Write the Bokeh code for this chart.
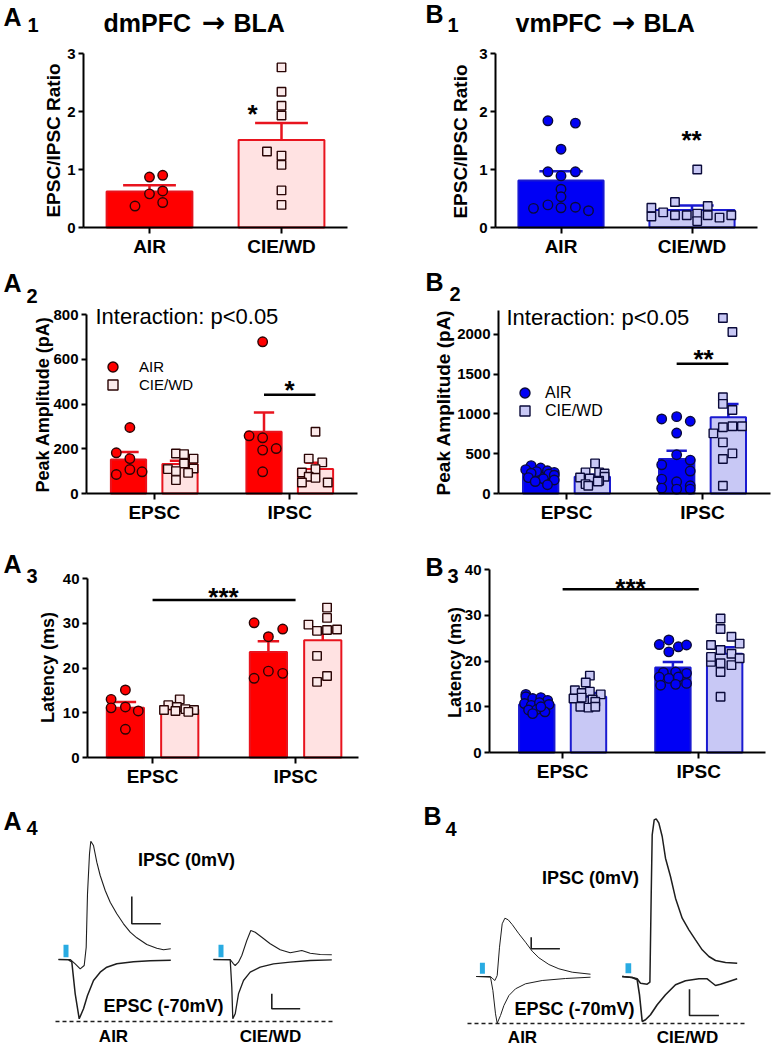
import math
from bokeh.plotting import figure
from bokeh.models import Range1d, FixedTicker, Label, Legend, LegendItem
from bokeh.core.properties import value
from bokeh.layouts import column, row
from bokeh.embed import file_html
from bokeh.resources import INLINE

FONT = "Liberation Sans"
ARROW_FONT = "DejaVu Sans"
RED, RED_EDGE, PINK = "#ff0000", "#e8141e", "#ffe2e2"
BLUE, BLUE_EDGE, LAV = "#0000f5", "#1a1ad0", "#c8c8f5"
A_PT_EDGE, B_PT_EDGE = "#2a0505", "#0a0a3a"
STIM = "#29abe2"

# ---------------- data ----------------
RATIO_GROUPS = ["AIR", "CIE/WD"]
CURRENT_GROUPS = ["EPSC", "IPSC"]

# A1 dmPFC -> BLA EPSC/IPSC ratio
A1_MEAN = [0.62, 1.51]
A1_SEM = [0.11, 0.29]
A1_AIR = [0.87, 0.90, 0.58, 0.63, 0.37, 0.43]
A1_AIR_JIT = [0.0, 0.10, 0.0, 0.10, -0.11, 0.10]
A1_CIE = [2.76, 2.34, 2.10, 1.93, 1.31, 1.24, 1.08, 0.64, 0.39]
A1_CIE_JIT = [0, 0, 0, 0, -0.11, 0, 0, 0, 0]

# B1 vmPFC -> BLA EPSC/IPSC ratio
B1_MEAN = [0.81, 0.30]
B1_SEM = [0.16, 0.08]
B1_AIR = [1.84, 1.80, 1.35, 0.96, 0.96, 0.89, 0.66, 0.53, 0.33, 0.39, 0.34, 0.35, 0.29]
B1_AIR_JIT = [-0.10, 0.11, 0, -0.10, 0.11, 0, 0, 0, -0.21, -0.10, 0, 0.11, 0.21]
B1_CIE = [1.00, 0.44, 0.34, 0.37, 0.26, 0.19, 0.21, 0.21, 0.24, 0.11, 0.21, 0.17, 0.21]
B1_CIE_JIT = [0.04, -0.13, -0.31, 0.12, -0.22, -0.31, -0.13, -0.04, 0.04, 0.04, 0.12, 0.21, 0.30]

# A2 peak amplitude (pA)  [EPSC, IPSC]
A2_MEAN_AIR = [152, 276]
A2_SEM_AIR = [34, 86]
A2_MEAN_CIE = [132, 109]
A2_SEM_CIE = [14, 28]
A2_EPSC_AIR = [295, 182, 156, 107, 97, 85]
A2_EPSC_AIR_JIT = [0.01, -0.09, 0.01, 0.01, 0.10, -0.09]
A2_EPSC_CIE = [179, 176, 156, 134, 112, 109, 100, 92, 60]
A2_EPSC_CIE_JIT = [-0.03, 0.03, 0.10, 0.03, 0.10, -0.09, -0.03, 0.06, -0.03]
A2_IPSC_AIR = [678, 258, 249, 201, 194, 97]
A2_IPSC_AIR_JIT = [-0.01, -0.11, -0.01, 0.09, -0.01, -0.01]
A2_IPSC_CIE = [276, 156, 139, 109, 94, 75, 70, 49, 49]
A2_IPSC_CIE_JIT = [0, -0.05, 0.05, 0, -0.10, -0.05, 0, -0.10, 0.09]
A2_SIG = 441

# B2 peak amplitude (pA)
B2_MEAN_AIR = [250, 433]
B2_SEM_AIR = [20, 105]
B2_MEAN_CIE = [210, 958]
B2_SEM_CIE = [25, 168]
B2_EPSC_AIR = [350, 320, 300, 285, 275, 265, 255, 245, 230, 200, 185, 170, 150, 110]
B2_EPSC_AIR_JIT = [-0.07, 0.0, -0.11, 0.05, -0.03, 0.10, -0.07, 0.06, 0.10, -0.09, 0.02, 0.10, -0.04, 0.05]
B2_EPSC_CIE = [378, 265, 265, 252, 210, 202, 189, 160, 151, 118, 97]
B2_EPSC_CIE_JIT = [0.02, -0.05, 0.05, 0.09, 0.09, -0.09, -0.02, 0.05, 0.04, -0.05, -0.03]
B2_IPSC_AIR = [966, 937, 908, 760, 487, 420, 361, 282, 181, 147, 97, 67, 55, 55]
B2_IPSC_AIR_JIT = [0, -0.11, 0.10, 0, 0, 0.10, -0.11, 0.10, -0.11, 0, 0.10, -0.11, 0, 0.10]
B2_IPSC_CIE = [2206, 2029, 1210, 1126, 1050, 845, 845, 832, 756, 643, 504, 433, 97]
B2_IPSC_CIE_JIT = [-0.04, 0.03, -0.04, -0.04, 0.03, 0.10, 0.03, -0.04, -0.11, -0.04, 0.03, -0.04, -0.04]
B2_SIG = 1630

# A3 latency (ms)
A3_MEAN_AIR = [11.1, 23.6]
A3_SEM_AIR = [1.3, 2.4]
A3_MEAN_CIE = [10.7, 26.2]
A3_SEM_CIE = [0.6, 1.9]
A3_EPSC_AIR = [15.1, 13.0, 11.1, 11.3, 10.4, 6.3]
A3_EPSC_AIR_JIT = [0, -0.10, -0.10, 0, 0.09, 0]
A3_EPSC_CIE = [13.0, 11.7, 11.3, 10.8, 10.6, 10.6, 10.4, 10.2]
A3_EPSC_CIE_JIT = [0, -0.08, -0.02, 0.04, -0.11, 0.10, -0.03, 0.06]
A3_IPSC_AIR = [30.1, 28.7, 27.0, 19.3, 18.8, 17.7]
A3_IPSC_AIR_JIT = [-0.10, 0.10, 0, 0, 0.10, -0.10]
A3_IPSC_CIE = [33.5, 31.2, 29.7, 28.6, 28.3, 28.5, 22.7, 18.2, 16.9]
A3_IPSC_CIE_JIT = [0.03, 0.03, -0.10, 0.10, -0.04, 0.03, -0.04, 0.03, -0.04]
A3_SIG = 35.2

# B3 latency (ms)
B3_MEAN_AIR = [10.5, 18.6]
B3_SEM_AIR = [0.6, 1.2]
B3_MEAN_CIE = [12.2, 21.6]
B3_SEM_CIE = [0.8, 1.4]
B3_EPSC_AIR = [12.7, 12.2, 11.8, 12.0, 11.4, 10.7, 10.3, 10.9, 10.5, 9.3, 9.4, 8.9, 8.5, 10.0]
B3_EPSC_AIR_JIT = [-0.08, -0.08, -0.03, 0.03, 0.08, -0.09, -0.04, 0.02, 0.09, -0.06, 0.0, 0.06, -0.03, 0.03]
B3_EPSC_CIE = [16.8, 15.3, 13.6, 13.0, 13.3, 12.7, 11.8, 12.0, 11.6, 11.1, 10.0, 9.8, 10.0]
B3_EPSC_CIE_JIT = [0.01, -0.02, -0.10, -0.05, 0.01, 0.09, -0.11, -0.05, 0.03, 0.05, -0.06, 0.0, 0.05]
B3_IPSC_AIR = [24.6, 23.6, 23.1, 23.5, 22.0, 17.5, 17.6, 17.3, 16.5, 16.2, 16.5, 15.1, 14.7, 14.9]
B3_IPSC_AIR_JIT = [-0.03, -0.10, 0.04, 0.10, -0.03, -0.07, 0.02, 0.10, -0.10, -0.03, 0.04, 0.10, -0.09, 0.02]
B3_IPSC_CIE = [29.3, 27.0, 25.3, 23.8, 23.5, 22.4, 21.6, 19.8, 19.5, 19.1, 20.6, 17.6, 12.2, 20.9]
B3_IPSC_CIE_JIT = [-0.03, -0.03, 0.05, 0.11, -0.10, -0.03, 0.05, -0.10, -0.03, 0.05, 0.11, -0.03, -0.03, -0.10]
B3_SIG = 35.7

# A4 example traces (time ms, current pA; baseline 0)
A4_AIR_IPSC_T = [0, 11.7, 16.7, 21.7, 25.7, 27.7, 29, 31, 32.3, 35, 38.3, 41.7, 46.7, 51.7, 58.3, 65, 71.7, 78.3, 88.3, 98.3, 105, 112.3]
A4_AIR_IPSC_I = [0, 0, -43, -93, -60, 123, 657, 1057, 1183, 1140, 973, 840, 690, 573, 457, 357, 273, 217, 150, 113, 97, 107]
A4_AIR_EPSC_T = [0, 10, 13.3, 16.7, 20.7, 25, 29, 35, 41.7, 48.3, 58.3, 75, 91.7, 112.3]
A4_AIR_EPSC_I = [0, -3, -23, -343, -593, -493, -360, -210, -127, -77, -43, -23, -13, -7]
A4_CIE_IPSC_T = [0, 16.7, 20, 21.7, 25, 28.3, 33.3, 37.3, 41.7, 48.3, 56.7, 66.7, 76.7, 83.3, 88.3, 96.7, 106.7, 118.3]
A4_CIE_IPSC_I = [0, 0, -43, -60, -27, 40, 190, 290, 273, 223, 157, 97, 67, 80, 90, 63, 50, 47]
A4_CIE_EPSC_T = [0, 16.7, 18.3, 19.3, 21.7, 25, 30, 36.7, 46.7, 60, 76.7, 96.7, 118.3]
A4_CIE_EPSC_I = [0, -3, -277, -593, -543, -343, -210, -127, -77, -43, -27, -10, -3]
A4_STIM_T = [5, 10]
A4_STIM_I = [23, 147]
A4_SCALE_AIR = [73.3, 357, 29, 273]   # t0, i0, dt, di
A4_SCALE_CIE = [58.3, -493, 28.4, 150]
A4_OFFSETS = [58, 213]
A4_DASH = [55, 335, -620]

# B4 example traces
B4_AIR_IPSC_T = [0, 14.3, 16.7, 18.7, 21, 23.3, 26, 28.7, 32, 36, 42.7, 49.3, 56, 62.7, 72.7, 82.7, 96, 114.3]
B4_AIR_IPSC_I = [0, 0, -23, -40, 10, 293, 527, 583, 567, 520, 427, 343, 253, 187, 120, 77, 43, 23]
B4_AIR_EPSC_T = [0, 14.3, 16.7, 19.3, 21, 24.3, 27.7, 32.7, 39.3, 49.3, 66, 89.3, 114.3]
B4_AIR_EPSC_I = [0, -7, -140, -373, -467, -390, -290, -190, -123, -73, -40, -20, -7]
B4_CIE_IPSC_T = [0, 10, 15, 18.3, 25, 27.7, 29, 30, 32, 34, 36.7, 40, 43.3, 48.3, 53.3, 60, 66.7, 73.3, 80, 86.7, 93.3, 103.3, 115]
B4_CIE_IPSC_I = [0, -10, -23, -67, -77, -57, 817, 1417, 1567, 1577, 1533, 1400, 1183, 1000, 783, 583, 467, 367, 267, 200, 160, 140, 133]
B4_CIE_EPSC_T = [0, 10, 15, 17.3, 20, 23.3, 28.3, 35, 43.3, 53.3, 63.3, 76.7, 85, 88.3, 93.3, 98.3, 106.7, 115]
B4_CIE_EPSC_I = [0, -10, -33, -183, -450, -433, -383, -283, -183, -83, -43, -23, -23, -50, -90, -77, -50, -23]
B4_STIM_AIR_T = [3.7, 8.7]
B4_STIM_AIR_I = [27, 137]
B4_STIM_CIE_T = [3.3, 9.0]
B4_STIM_CIE_I = [33, 133]
B4_SCALE_AIR = [55, 277, 28.7, 116]
B4_SCALE_CIE = [67.3, -390, 29.4, 263]
B4_OFFSETS = [85.7, 231.7]
B4_DASH = [77, 355, -470]

# ---------------- geometry (page px) ----------------
# fig = (left, top, width, height) of the figure; frame = (L, R, T, B) of the axis box
G_A1 = dict(fig=(0, 0, 390, 258), frame=(83, 347, 53, 227), xr=(0, 2), yr=(0, 3))
G_B1 = dict(fig=(390, 0, 384, 258), frame=(495, 757, 53, 227), xr=(0, 2), yr=(0, 3))
G_A2 = dict(fig=(0, 258, 390, 267), frame=(86, 357, 314, 493), xr=(0, 2), yr=(0, 800))
G_B2 = dict(fig=(390, 258, 384, 267), frame=(498, 770, 310, 493), xr=(0, 2.0), yr=(0, 2300))
G_A3 = dict(fig=(0, 525, 390, 265), frame=(87, 358, 578, 757), xr=(0.045, 1.94), yr=(0, 40))
G_B3 = dict(fig=(390, 525, 384, 265), frame=(489, 765, 569, 752), xr=(-0.037, 1.99), yr=(0, 40))
G_A4 = dict(fig=(0, 790, 390, 256), frame=(0, 390, 790, 1046), xr=(0, 390), yr=(-870, 1690))
G_B4 = dict(fig=(390, 790, 384, 256), frame=(390, 774, 790, 1046), xr=(0, 384), yr=(-700, 1860))


def to_data(g, rx, ry):
    L, R, T, B = g["frame"]
    x0, x1 = g["xr"]
    y0, y1 = g["yr"]
    return x0 + (rx - L) / (R - L) * (x1 - x0), y0 + (B - ry) / (B - T) * (y1 - y0)


def full_ranges(g):
    fx, fy, W, H = g["fig"]
    x_a, y_a = to_data(g, fx, fy + H)
    x_b, y_b = to_data(g, fx + W, fy)
    return (x_a, x_b), (y_a, y_b)


def txt(p, g, rx, ry, text, size, bold=True, align="center", font=FONT, angle=0.0):
    x, y = to_data(g, rx, ry)
    p.add_layout(Label(x=x, y=y, text=text, text_font=font, text_font_size=f"{size}px",
                       text_font_style="bold" if bold else "normal", text_align=align,
                       text_baseline="middle", text_color="black", angle=angle))


def make_fig(g, axes=True):
    fx, fy, W, H = g["fig"]
    xr, yr = full_ranges(g)
    kw = dict(width=W, height=H, x_range=Range1d(*xr), y_range=Range1d(*yr),
              min_border=0, min_border_left=0, min_border_right=0, min_border_top=0,
              min_border_bottom=0, output_backend="svg", toolbar_location=None)
    if not axes:
        kw.update(x_axis_type=None, y_axis_type=None)
    p = figure(**kw)
    p.grid.visible = False
    p.outline_line_color = None
    p.background_fill_color = "white"
    p.border_fill_color = "white"
    return p


def style_axes(p, g, yticks, xlabels, ylabel, lab_pos, lab_size):
    x0, x1 = g["xr"]
    y0, y1 = g["yr"]
    p.xaxis.fixed_location = y0
    p.xaxis.bounds = (x0, x1)
    p.yaxis.fixed_location = x0
    p.yaxis.bounds = (y0, y1)
    p.xaxis.ticker = FixedTicker(ticks=[0.5, 1.5])
    p.xaxis.major_label_overrides = {0.5: xlabels[0], 1.5: xlabels[1]}
    p.yaxis.ticker = FixedTicker(ticks=yticks)
    for ax in p.axis:
        ax.axis_line_width = 2
        ax.axis_line_color = "black"
        ax.major_tick_line_width = 2
        ax.major_tick_line_color = "black"
        ax.major_tick_in = 0
        ax.minor_tick_in = 0
        ax.minor_tick_out = 0
        ax.major_label_text_font = FONT
        ax.major_label_text_font_style = "bold"
        ax.major_label_text_color = "black"
    p.xaxis.major_tick_out = 6
    p.xaxis.major_label_text_font_size = "19px"
    p.xaxis.major_label_standoff = 2
    p.yaxis.major_tick_out = 5
    p.yaxis.major_label_text_font_size = "15px"
    p.yaxis.major_label_standoff = 3
    # y-axis title, placed as rotated text beside the tick labels
    txt(p, g, lab_pos[0], lab_pos[1], ylabel, lab_size, angle=math.pi / 2)


def errbar(p, xs, means, sems, cap, color):
    tops = [m + s for m, s in zip(means, sems)]
    p.segment(x0=xs, y0=means, x1=xs, y1=tops, line_color=color, line_width=2.5)
    p.segment(x0=[x - cap / 2 for x in xs], y0=tops, x1=[x + cap / 2 for x in xs], y1=tops,
              line_color=color, line_width=2.5)


def points(p, xc, vals, jit, marker, fill, edge):
    return p.scatter(x=[xc + j for j in jit], y=vals, marker=marker,
                     size=9.5 if marker == "circle" else 8.5,
                     fill_color=fill, line_color=edge, line_width=1.4)


def letters(p, g, letter, digit, lx, ly, dx, dy):
    txt(p, g, lx, ly, letter, 25, align="left")
    txt(p, g, dx, dy, digit, 20, align="left")


def heading(p, g, left_word, left_x, arrow_x, right_x, y):
    txt(p, g, left_x, y, left_word, 25, align="left")
    txt(p, g, arrow_x, y, "\u2192", 28, font=ARROW_FONT)
    txt(p, g, right_x, y, "BLA", 25, align="left")


# ---------- row 1: ratio panels ----------
def ratio_panel(g, means, sems, air, air_j, cie, cie_j, cols, cap, lab_pos):
    fill_air, fill_cie, edge, pedge, sq_fill = cols
    p = make_fig(g)
    style_axes(p, g, [0, 1, 2, 3], RATIO_GROUPS, "EPSC/IPSC Ratio", lab_pos, 19)
    xs = [i + 0.5 for i in range(len(RATIO_GROUPS))]
    p.vbar(x=xs, top=means, width=0.65, fill_color=[fill_air, fill_cie], line_color=edge, line_width=2)
    errbar(p, xs, means, sems, cap, edge)
    points(p, xs[0], air, air_j, "circle", fill_air, pedge)
    points(p, xs[1], cie, cie_j, "square", sq_fill, pedge)
    return p


A_COLS = (RED, PINK, RED_EDGE, A_PT_EDGE, "#fbeaea")
B_COLS = (BLUE, LAV, BLUE_EDGE, B_PT_EDGE, LAV)

pA1 = ratio_panel(G_A1, A1_MEAN, A1_SEM, A1_AIR, A1_AIR_JIT, A1_CIE, A1_CIE_JIT, A_COLS, 0.40, (53, 140))
letters(pA1, G_A1, "A", "1", 3, 16, 27, 24)
heading(pA1, G_A1, "dmPFC", 103, 213, 233, 22)
txt(pA1, G_A1, 252, 113, "*", 26)

pB1 = ratio_panel(G_B1, B1_MEAN, B1_SEM, B1_AIR, B1_AIR_JIT, B1_CIE, B1_CIE_JIT, B_COLS, 0.33, (460, 141))
letters(pB1, G_B1, "B", "1", 425, 13, 447, 24)
heading(pB1, G_B1, "vmPFC", 515, 623, 643, 22)
txt(pB1, G_B1, 691, 139, "**", 26)


# ---------- grouped panels ----------
OFF = 0.19
BW = 0.26


def grouped_panel(g, yticks, ylabel, lab_pos, lab_size, mean_air, sem_air, mean_cie, sem_cie,
                  e_air, e_air_j, e_cie, e_cie_j, i_air, i_air_j, i_cie, i_cie_j, cols):
    fill_air, fill_cie, edge, pedge, sq_fill = cols
    p = make_fig(g)
    style_axes(p, g, yticks, CURRENT_GROUPS, ylabel, lab_pos, lab_size)
    centers = [i + 0.5 for i in range(len(CURRENT_GROUPS))]
    xa = [c - OFF for c in centers]
    xc = [c + OFF for c in centers]
    p.vbar(x=xa, top=mean_air, width=BW, fill_color=fill_air, line_color=edge, line_width=2)
    p.vbar(x=xc, top=mean_cie, width=BW, fill_color=fill_cie, line_color=edge, line_width=2)
    errbar(p, xa, mean_air, sem_air, 0.15, edge)
    errbar(p, xc, mean_cie, sem_cie, 0.15, edge)
    r_air = points(p, xa[0], e_air, e_air_j, "circle", fill_air, pedge)
    r_cie = points(p, xc[0], e_cie, e_cie_j, "square", sq_fill, pedge)
    points(p, xa[1], i_air, i_air_j, "circle", fill_air, pedge)
    points(p, xc[1], i_cie, i_cie_j, "square", sq_fill, pedge)
    return p, r_air, r_cie, xa, xc, centers


def add_legend(p, g, r, label, cx, cy, standoff, size):
    fx, fy, W, H = g["fig"]
    loc = (int(round(cx - 12.5 - fx)), int(round(fy + H - (cy + 12.5))))
    lg = Legend(items=[LegendItem(label=value(label), renderers=[r])], location=loc,
                glyph_width=25, glyph_height=25, padding=0, margin=0, spacing=0,
                label_standoff=standoff, border_line_color=None, background_fill_alpha=0,
                label_text_font=FONT, label_text_font_size=f"{size}px", label_text_color="black",
                label_height=25)
    p.add_layout(lg)


pA2, ra, rc, xa, xc, cen = grouped_panel(
    G_A2, [0, 200, 400, 600, 800], "Peak Amplitude (pA)", (42, 404), 18,
    A2_MEAN_AIR, A2_SEM_AIR, A2_MEAN_CIE, A2_SEM_CIE,
    A2_EPSC_AIR, A2_EPSC_AIR_JIT, A2_EPSC_CIE, A2_EPSC_CIE_JIT,
    A2_IPSC_AIR, A2_IPSC_AIR_JIT, A2_IPSC_CIE, A2_IPSC_CIE_JIT, A_COLS)
pA2.line(x=[xa[1], xc[1]], y=[A2_SIG, A2_SIG], line_color="black", line_width=2.5)
txt(pA2, G_A2, 289, 389, "*", 26)
txt(pA2, G_A2, 95, 316, "Interaction: p<0.05", 22, bold=False, align="left")
add_legend(pA2, G_A2, ra, "AIR", 113, 367, 14, 15)
add_legend(pA2, G_A2, rc, "CIE/WD", 113, 384, 14, 15)
letters(pA2, G_A2, "A", "2", 3, 282, 26, 295)

pB2, ra, rc, xa, xc, cen = grouped_panel(
    G_B2, [0, 500, 1000, 1500, 2000], "Peak Amplitude (pA)", (443, 402), 19,
    B2_MEAN_AIR, B2_SEM_AIR, B2_MEAN_CIE, B2_SEM_CIE,
    B2_EPSC_AIR, B2_EPSC_AIR_JIT, B2_EPSC_CIE, B2_EPSC_CIE_JIT,
    B2_IPSC_AIR, B2_IPSC_AIR_JIT, B2_IPSC_CIE, B2_IPSC_CIE_JIT, B_COLS)
pB2.line(x=[xa[1], xc[1]], y=[B2_SIG, B2_SIG], line_color="black", line_width=2.5)
txt(pB2, G_B2, 703, 358, "**", 26)
txt(pB2, G_B2, 506, 317, "Interaction: p<0.05", 22, bold=False, align="left")
add_legend(pB2, G_B2, ra, "AIR", 525, 393, 8, 16)
add_legend(pB2, G_B2, rc, "CIE/WD", 525, 411, 8, 16)
letters(pB2, G_B2, "B", "2", 425, 281, 449, 293)

pA3, ra, rc, xa, xc, cen = grouped_panel(
    G_A3, [0, 10, 20, 30, 40], "Latency (ms)", (47, 667), 18,
    A3_MEAN_AIR, A3_SEM_AIR, A3_MEAN_CIE, A3_SEM_CIE,
    A3_EPSC_AIR, A3_EPSC_AIR_JIT, A3_EPSC_CIE, A3_EPSC_CIE_JIT,
    A3_IPSC_AIR, A3_IPSC_AIR_JIT, A3_IPSC_CIE, A3_IPSC_CIE_JIT, A_COLS)
pA3.line(x=cen, y=[A3_SIG, A3_SIG], line_color="black", line_width=2.5)
txt(pA3, G_A3, 223, 596, "***", 26)
letters(pA3, G_A3, "A", "3", 3, 563, 26, 575)

pB3, ra, rc, xa, xc, cen = grouped_panel(
    G_B3, [0, 10, 20, 30, 40], "Latency (ms)", (454, 662), 18,
    B3_MEAN_AIR, B3_SEM_AIR, B3_MEAN_CIE, B3_SEM_CIE,
    B3_EPSC_AIR, B3_EPSC_AIR_JIT, B3_EPSC_CIE, B3_EPSC_CIE_JIT,
    B3_IPSC_AIR, B3_IPSC_AIR_JIT, B3_IPSC_CIE, B3_IPSC_CIE_JIT, B_COLS)
pB3.line(x=cen, y=[B3_SIG, B3_SIG], line_color="black", line_width=2.5)
txt(pB3, G_B3, 630, 587, "***", 26)
letters(pB3, G_B3, "B", "3", 425, 566, 447, 575)


# ---------- row 4: example traces ----------
def trace_panel(g, traces, stims, scales, dash, widths):
    p = make_fig(g, axes=False)
    for (t, i, x0), w in zip(traces, widths):
        p.line(x=[v + x0 for v in t], y=i, line_color="#1e1e1e", line_width=w)
    for (ts, is_, x0) in stims:
        p.quad(left=[ts[0] + x0], right=[ts[1] + x0], bottom=[is_[0]], top=[is_[1]],
               fill_color=STIM, line_color=None)
    for (t0, i0, dt, di), x0 in scales:
        p.line(x=[t0 + x0, t0 + x0, t0 + x0 + dt], y=[i0 + di, i0, i0],
               line_color="#1e1e1e", line_width=1.6)
    p.line(x=[dash[0], dash[1]], y=[dash[2], dash[2]], line_color="#1e1e1e",
           line_width=1.6, line_dash="4 3")
    return p


ax0, cx0 = A4_OFFSETS
pA4 = trace_panel(
    G_A4,
    [(A4_AIR_IPSC_T, A4_AIR_IPSC_I, ax0), (A4_AIR_EPSC_T, A4_AIR_EPSC_I, ax0),
     (A4_CIE_IPSC_T, A4_CIE_IPSC_I, cx0), (A4_CIE_EPSC_T, A4_CIE_EPSC_I, cx0)],
    [(A4_STIM_T, A4_STIM_I, ax0), (A4_STIM_T, A4_STIM_I, cx0)],
    [(A4_SCALE_AIR, ax0), (A4_SCALE_CIE, cx0)], A4_DASH, [1.1, 1.5, 1.1, 1.3])
txt(pA4, G_A4, 186, 859, "IPSC (0mV)", 18)
txt(pA4, G_A4, 163, 1005, "EPSC (-70mV)", 18)
txt(pA4, G_A4, 113, 1036, "AIR", 17)
txt(pA4, G_A4, 270, 1036, "CIE/WD", 17)
letters(pA4, G_A4, "A", "4", 3, 820, 26, 827)

bx0, bcx0 = B4_OFFSETS
pB4 = trace_panel(
    G_B4,
    [(B4_AIR_IPSC_T, B4_AIR_IPSC_I, bx0), (B4_AIR_EPSC_T, B4_AIR_EPSC_I, bx0),
     (B4_CIE_IPSC_T, B4_CIE_IPSC_I, bcx0), (B4_CIE_EPSC_T, B4_CIE_EPSC_I, bcx0)],
    [(B4_STIM_AIR_T, B4_STIM_AIR_I, bx0), (B4_STIM_CIE_T, B4_STIM_CIE_I, bcx0)],
    [(B4_SCALE_AIR, bx0), (B4_SCALE_CIE, bcx0)], B4_DASH, [1.0, 1.0, 1.5, 1.6])
txt(pB4, G_B4, 590, 877, "IPSC (0mV)", 18)
txt(pB4, G_B4, 574, 1008, "EPSC (-70mV)", 18)
txt(pB4, G_B4, 522, 1037, "AIR", 17)
txt(pB4, G_B4, 687, 1037, "CIE/WD", 17)
letters(pB4, G_B4, "B", "4", 423, 815, 445, 828)

layout = column(row(pA1, pB1), row(pA2, pB2), row(pA3, pB3), row(pA4, pB4))
open("out.html", "w").write(file_html(layout, INLINE))
